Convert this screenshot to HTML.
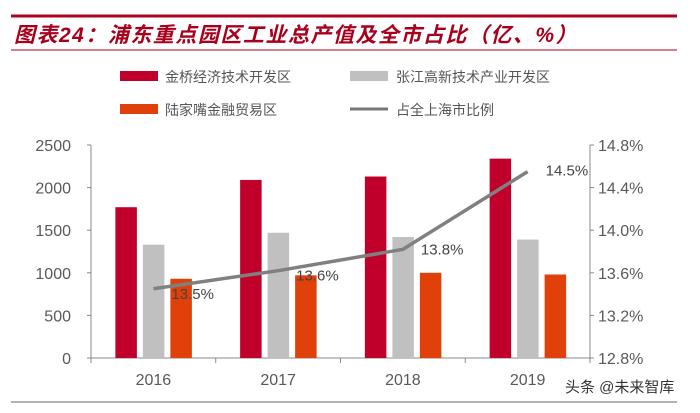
<!DOCTYPE html>
<html><head><meta charset="utf-8"><style>
body{margin:0;background:#fff;width:700px;height:408px;overflow:hidden;font-family:"Liberation Sans","Noto Sans CJK SC",sans-serif}
</style></head><body>
<svg width="700" height="408">
<line x1="11" y1="16" x2="677" y2="16" stroke="#b0001e" stroke-width="3"/>
<text x="14" y="42" font-size="21" font-weight="bold" font-style="italic" fill="#a8001c" letter-spacing="1.5" font-family="'Liberation Sans','Noto Sans CJK SC',sans-serif">图表24：浦东重点园区工业总产值及全市占比（亿、%）</text>
<line x1="11" y1="50" x2="677" y2="50" stroke="#a8001c" stroke-width="1"/>
<line x1="11" y1="402" x2="677" y2="402" stroke="#666" stroke-width="1"/>
<g font-size="14" fill="#555">
<rect x="120" y="71" width="38" height="10" fill="#c0002a"/>
<text x="165" y="82">金桥经济技术开发区</text>
<rect x="350" y="71" width="38" height="10" fill="#c0c0c0"/>
<text x="396" y="82">张江高新技术产业开发区</text>
<rect x="120" y="104" width="38" height="10" fill="#e0400a"/>
<text x="165" y="115">陆家嘴金融贸易区</text>
<line x1="350" y1="109" x2="388" y2="109" stroke="#777" stroke-width="3"/>
<text x="396" y="115">占全上海市比例</text>
</g>
<g id="plot"></g>
<text x="565" y="392" font-size="15" fill="#333">头条 @未来智库</text>
</svg>
<script>
const categories=["2016","2017","2018","2019"];
const jinqiao=[1770,2090,2130,2340];
const zhangjiang=[1330,1470,1420,1390];
const lujiazui=[930,970,1000,980];
const share=[13.45,13.62,13.82,14.55];
const shareLabels=["13.5%","13.6%","13.8%","14.5%"];
const leftTicks=[0,500,1000,1500,2000,2500];
const rightTicks=[12.8,13.2,13.6,14.0,14.4,14.8];
const NS="http://www.w3.org/2000/svg";
const g=document.getElementById('plot');
const X0=91,X1=590,Y0=358,Y1=145;
const yL=v=>Y0-(v/2500)*(Y0-Y1);
const yR=v=>Y0-((v-12.8)/2)*(Y0-Y1);
const cw=(X1-X0)/categories.length;
const xc=i=>X0+cw*(i+0.5);
function el(t,a){const e=document.createElementNS(NS,t);for(const k in a)e.setAttribute(k,a[k]);g.appendChild(e);return e;}
let e;
e=el('line',{x1:X0,y1:Y0,x2:X1,y2:Y0,stroke:'#888'});


e=el('line',{x1:X0,y1:Y1,x2:X0,y2:Y0,stroke:'#888'});


e=el('line',{x1:X1,y1:Y1,x2:X1,y2:Y0,stroke:'#888'});


leftTicks.forEach(v=>{
 el('line',{x1:X0-4,y1:yL(v),x2:X0,y2:yL(v),stroke:'#888'});
 e=el('text',{x:X0-20,y:yL(v)+6,'font-size':16,fill:'#595959','text-anchor':'end'});e.textContent=v;
 
 
});
rightTicks.forEach(v=>{
 el('line',{x1:X1,y1:yR(v),x2:X1+4,y2:yR(v),stroke:'#888'});
 e=el('text',{x:X1+8,y:yR(v)+6,'font-size':16,fill:'#595959'});e.textContent=v.toFixed(1)+'%';
 
 
});
for(let i=0;i<=categories.length;i++){el('line',{x1:X0+cw*i,y1:Y0,x2:X0+cw*i,y2:Y0+5,stroke:'#888'});}
const series=[[jinqiao,'#c0002a','bar-jinqiao'],[zhangjiang,'#c0c0c0','bar-zhangjiang'],[lujiazui,'#e0400a','bar-lujiazui']];
categories.forEach((c,i)=>{
 series.forEach((s,j)=>{
  const x=xc(i)-38+j*27.5;
  e=el('rect',{x:x,y:yL(s[0][i]),width:21.5,height:Y0-yL(s[0][i]),fill:s[1]});
  
  
 });
 e=el('text',{x:xc(i),y:Y0+27,'font-size':16,fill:'#595959','text-anchor':'middle'});e.textContent=c;
 
 
});
e=el('polyline',{points:share.map((v,i)=>xc(i)+','+yR(v)).join(' '),fill:'none',stroke:'#808080','stroke-width':3.5});


share.forEach((v,i)=>{
 e=el('text',{x:xc(i)+18,y:yR(v)+(i==3?4:i==2?5:10),'font-size':15,fill:'#444'});e.textContent=shareLabels[i];
 
 
});
</script>
</body></html>
